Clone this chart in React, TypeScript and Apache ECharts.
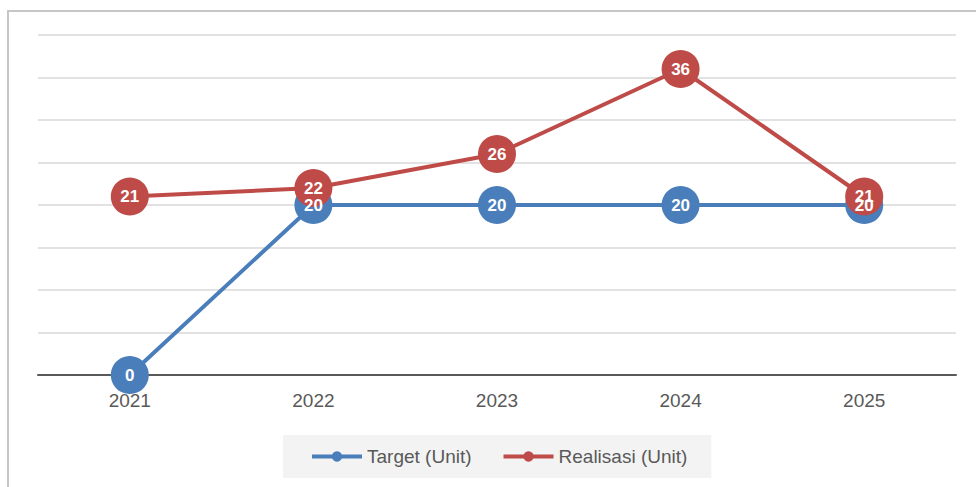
import React, { useEffect, useRef } from "react";
import * as echarts from "echarts";

const categories = ["2021", "2022", "2023", "2024", "2025"];
const targetValues = [0, 20, 20, 20, 20];
const realisasiValues = [21, 22, 26, 36, 21];
const seriesNames = ["Target (Unit)", "Realisasi (Unit)"];

const FONT = "'Liberation Sans', Arial, sans-serif";

export default function App() {
  const ref = useRef<HTMLDivElement>(null);
  useEffect(() => {
    if (!ref.current) return;
    const chart = echarts.init(ref.current, undefined, { renderer: "svg" });
    const label = {
      show: true,
      position: "inside",
      color: "#ffffff",
      fontWeight: "bold",
      fontSize: 17,
      fontFamily: FONT,
    };
    chart.setOption({
      animation: false,
      backgroundColor: "#ffffff",
      textStyle: { fontFamily: FONT },
      graphic: [
        {
          type: "rect",
          shape: { x: 8, y: 11, width: 1000, height: 500 },
          style: { fill: "none", stroke: "#c6c6c6", lineWidth: 2 },
          silent: true,
        },
      ],
      grid: { left: 38, right: 20, top: 35, bottom: 112 },
      legend: {
        left: 283,
        top: 435,
        backgroundColor: "#f3f3f3",
        padding: [12, 24, 12, 27],
        itemGap: 30,
        itemWidth: 50,
        itemHeight: 13,
        lineStyle: { width: 4 },
        textStyle: { color: "#595959", fontSize: 19, fontFamily: FONT },
        data: seriesNames,
      },
      xAxis: {
        type: "category",
        data: categories,
        boundaryGap: true,
        axisTick: { show: false },
        axisLine: { lineStyle: { color: "#595959", width: 2 } },
        axisLabel: { color: "#595959", fontSize: 19, margin: 16, fontFamily: FONT },
      },
      yAxis: {
        type: "value",
        min: 0,
        max: 40,
        interval: 5,
        axisLabel: { show: false },
        axisLine: { show: false },
        axisTick: { show: false },
        splitLine: { lineStyle: { color: "#d9d9d9", width: 1.5 } },
      },
      series: [
        {
          name: seriesNames[0],
          type: "line",
          data: targetValues,
          symbol: "circle",
          symbolSize: 38,
          color: "#4a7ebb",
          lineStyle: { width: 4, color: "#4a7ebb" },
          itemStyle: { color: "#4a7ebb" },
          label,
        },
        {
          name: seriesNames[1],
          type: "line",
          data: realisasiValues,
          symbol: "circle",
          symbolSize: 38,
          color: "#be4b48",
          lineStyle: { width: 4, color: "#be4b48" },
          itemStyle: { color: "#be4b48" },
          label,
        },
      ],
    });
    return () => chart.dispose();
  }, []);
  return (
    <div
      ref={ref}
      style={{ position: "fixed", left: 0, top: 0, width: 976, height: 487 }}
    />
  );
}
